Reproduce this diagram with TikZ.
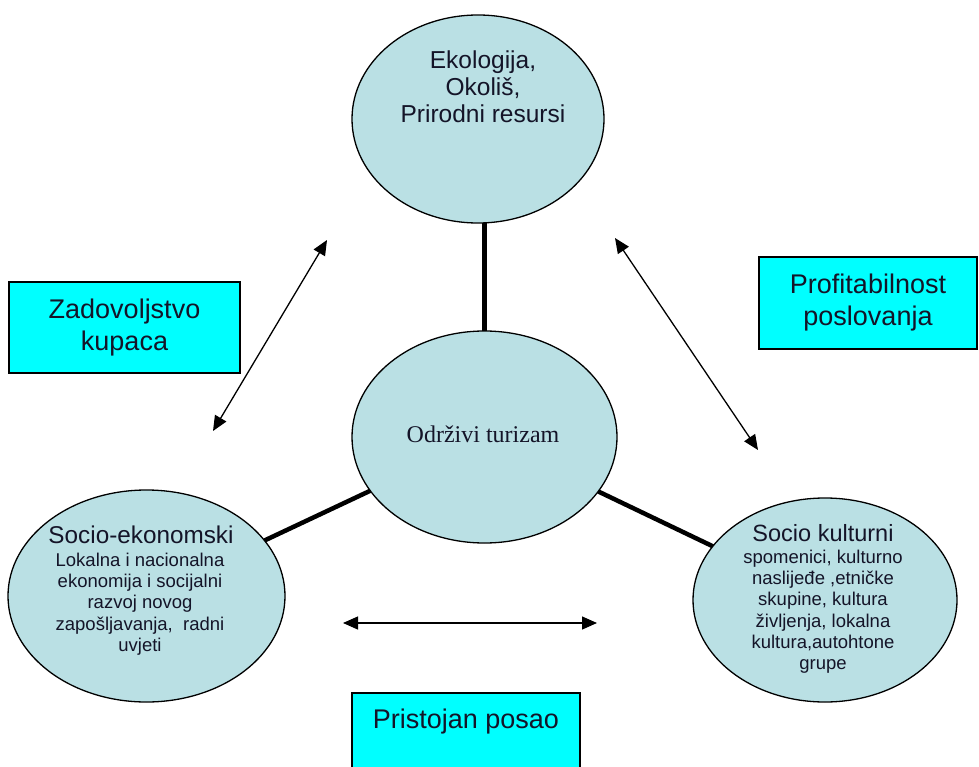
\documentclass[tikz,border=0pt]{standalone}
\usepackage{fontspec}
\setmainfont{Liberation Sans}
\newfontfamily\serifrm{Liberation Serif}
\usetikzlibrary{shapes.geometric,arrows.meta}
\definecolor{ellfill}{RGB}{186,224,228}
\definecolor{boxfill}{RGB}{0,255,255}
\definecolor{txt}{RGB}{20,20,40}
\begin{document}
\begin{tikzpicture}[x=1pt,y=-1pt,
 ell/.style={ellipse,draw=black,line width=1.3pt,fill=ellfill,inner sep=0pt,outer sep=0pt},
 boxn/.style={rectangle,draw=black,line width=1.5pt,fill=boxfill,inner sep=0pt,align=center,text=txt,font=\fontsize{27}{32}\selectfont},
 bigtxt/.style={inner sep=0pt,align=center,text=txt,font=\fontsize{24.5}{27}\selectfont},
 smalltxt/.style={inner sep=0pt,align=center,text=txt,font=\fontsize{18.5}{21.3}\selectfont},
 link/.style={line width=4.5pt},
 twoway/.style={line width=1.3pt,{Triangle[length=15pt,width=13pt]}-{Triangle[length=15pt,width=13pt]}}]
\useasboundingbox (0,0) rectangle (979,767);
\clip (0,0) rectangle (979,767);
\fill[white] (0,0) rectangle (979,767);

% boxes
\node[boxn,minimum width=231pt,minimum height=91pt] (zad) at (124.5,327.5) {Zadovoljstvo\\kupaca};
\node[boxn,minimum width=218pt,minimum height=92pt] (pro) at (868,303) {Profitabilnost\\poslovanja};
\node[boxn,anchor=north,minimum width=228pt,inner ysep=10pt,text height=26pt,text depth=60pt] (pri) at (466,692) {Pristojan posao};

% ellipses
\node[ell,minimum width=252pt,minimum height=208pt] (eko) at (478,119) {};
\node[ell,minimum width=265pt,minimum height=212pt] (odr) at (484.5,437) {};
\node[ell,minimum width=277pt,minimum height=212pt] (soe) at (146.5,596) {};
\node[ell,minimum width=264pt,minimum height=204pt] (sok) at (825,600) {};

% links
\draw[link] (odr.north) -- (odr.north |- eko.south);
\draw[link] (odr) -- (soe);
\draw[link] (odr) -- (sok);

% texts
\node[bigtxt,anchor=north] (ekot) at (483,51) {Ekologija,\\Okoliš,\\Prirodni resursi};
\node[inner sep=0pt,anchor=base,text=txt,font=\serifrm\fontsize{24}{28}\selectfont] (odrt) at (483,442) {Održivi turizam};
\node[inner sep=0pt,anchor=base,text=txt,font=\fontsize{24.3}{27}\selectfont] (soet) at (141,543) {Socio-ekonomski};
\node[smalltxt,anchor=north] (soeb) at (140,552.5) {Lokalna i nacionalna\\ekonomija i socijalni\\razvoj novog\\zapošljavanja,\ \ radni\\uvjeti};
\node[inner sep=0pt,anchor=base,text=txt,font=\fontsize{23.5}{27}\selectfont] (sokt) at (823,541) {Socio kulturni};
\node[smalltxt,anchor=north] (sokb) at (823,549.5) {spomenici, kulturno\\naslijeđe ,etničke\\skupine, kultura\\življenja, lokalna\\kultura,autohtone\\grupe};

% arrows
\coordinate (a1) at (327,240);
\coordinate (a2) at (213,431);
\coordinate (b1) at (615,238);
\coordinate (b2) at (758,450);
\coordinate (c1) at (343,623);
\coordinate (c2) at (597,623);
\draw[twoway] (a1) -- (a2);
\draw[twoway] (b1) -- (b2);
\draw[twoway] (c1) -- (c2);
\end{tikzpicture}
\end{document}
